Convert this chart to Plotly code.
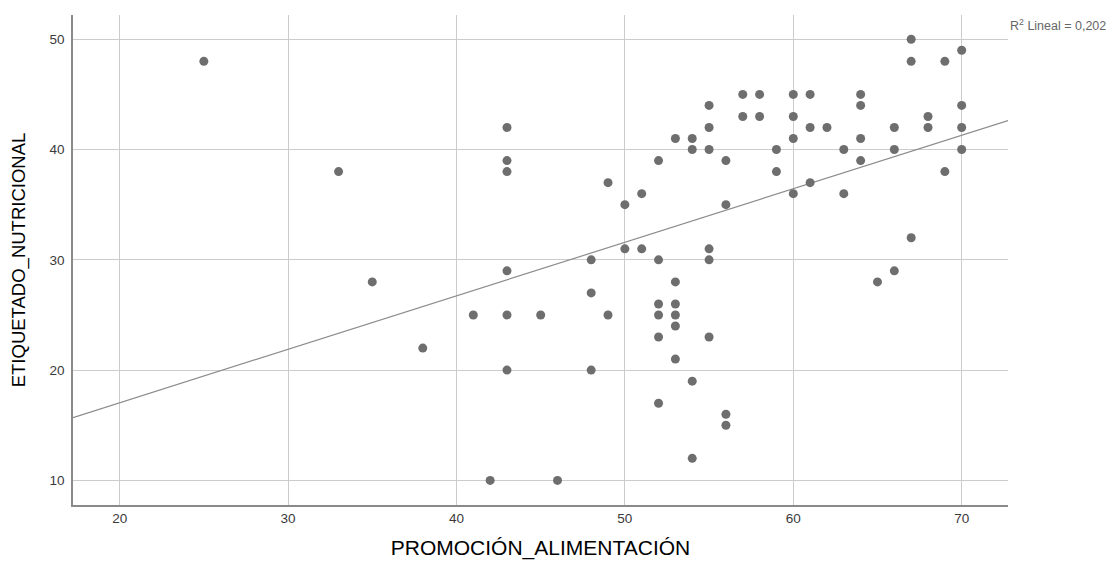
import numpy as np
import plotly.graph_objects as go

promocion = [25, 33, 35, 38, 41, 42,
             43, 43, 43, 43, 43, 43,
             45, 46,
             48, 48, 48,
             49, 49,
             50, 50,
             51, 51,
             52, 52, 52, 52, 52, 52,
             53, 53, 53, 53, 53, 53,
             54, 54, 54, 54,
             55, 55, 55, 55, 55, 55,
             56, 56, 56, 56,
             57, 57, 58, 58,
             59, 59,
             60, 60, 60, 60,
             61, 61, 61,
             62,
             63, 63,
             64, 64, 64, 64,
             65,
             66, 66, 66,
             67, 67, 67,
             68, 68,
             69, 69,
             70, 70, 70, 70]
etiquetado = [48, 38, 28, 22, 25, 10,
              42, 39, 38, 29, 25, 20,
              25, 10,
              30, 27, 20,
              37, 25,
              35, 31,
              36, 31,
              39, 30, 26, 25, 23, 17,
              41, 28, 26, 25, 24, 21,
              41, 40, 19, 12,
              44, 42, 40, 31, 30, 23,
              39, 35, 16, 15,
              45, 43, 45, 43,
              40, 38,
              45, 43, 41, 36,
              45, 42, 37,
              42,
              40, 36,
              45, 44, 41, 39,
              28,
              42, 40, 29,
              50, 48, 32,
              43, 42,
              48, 38,
              49, 44, 42, 40]

# linear fit line as drawn in the reference
fit_intercept = 7.34
fit_slope = 0.485

x_ticks = [20, 30, 40, 50, 60, 70]
y_ticks = [10, 20, 30, 40, 50]
r2_label = "R<sup>2</sup> Lineal = 0,202"

x_range = [17.23, 72.75]
y_range = [7.77, 52.2]

line_x = np.array(x_range)
line_y = fit_intercept + fit_slope * line_x

FONT = "Liberation Sans, Arial, sans-serif"

fig = go.Figure()
fig.add_trace(go.Scatter(
    x=line_x, y=line_y, mode="lines",
    line=dict(color="#8c8c8c", width=1.2),
    hoverinfo="skip", showlegend=False))
fig.add_trace(go.Scatter(
    x=promocion, y=etiquetado, mode="markers",
    marker=dict(color="#6e6e6e", size=9, line=dict(width=0)),
    showlegend=False))

axis_common = dict(
    showgrid=True, gridcolor="#cccccc", gridwidth=1,
    zeroline=False, showline=True, linecolor="#8a8a8a", linewidth=1.5,
    ticks="", tickfont=dict(family=FONT, size=13.5, color="#3a3a3a"),
)

fig.update_layout(
    width=1120, height=562,
    paper_bgcolor="white", plot_bgcolor="white",
    margin=dict(l=65, r=120, t=7, b=65, autoexpand=False),
    xaxis=dict(range=x_range, tickvals=x_ticks, **axis_common,
               title=dict(text="PROMOCIÓN_ALIMENTACIÓN",
                          font=dict(family=FONT, size=21, color="#000000"),
                          standoff=15)),
    yaxis=dict(range=y_range, tickvals=y_ticks, **axis_common,
               ticklabelstandoff=4,
               title=dict(text="ETIQUETADO_NUTRICIONAL",
                          font=dict(family=FONT, size=18.5, color="#000000"),
                          standoff=22)),
    annotations=[dict(
        x=1.0, y=1.0, xref="paper", yref="paper", xanchor="left", yanchor="top",
        xshift=0, yshift=0,
        text=r2_label, showarrow=False,
        font=dict(family=FONT, size=12.5, color="#666666"))],
)

fig.write_html("out.html")
